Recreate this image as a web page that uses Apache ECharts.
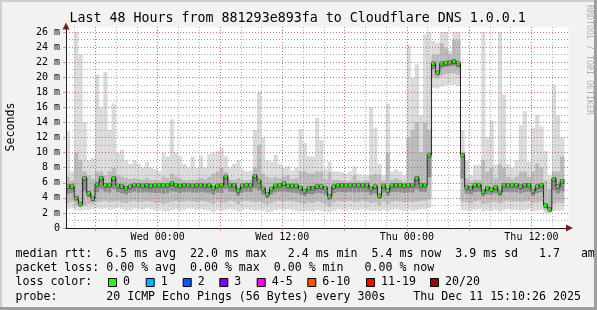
<!DOCTYPE html>
<html><head><meta charset="utf-8">
<script src="https://cdn.jsdelivr.net/npm/echarts@6/dist/echarts.min.js"></script>
<style>html,body{margin:0;padding:0;background:#f2f2f2}#c{width:597px;height:310px}</style>
</head><body><div id="c"></div>
<script>
// time slots: hours relative to Wed 00:00, one slot = 24 minutes, from Tue 15:10 to Thu 15:10
const startHour = -8.8333;
const stepHours = 0.4;
const xMaxHour = 39.57;
const yMaxMs = 26.66;

const medianMs = [5.5,5.5,4.0,3.2,6.6,4.6,3.9,5.8,6.6,5.7,5.7,6.6,5.6,5.5,5.3,5.5,5.7,5.7,5.6,5.7,
 5.6,5.7,5.7,5.65,5.7,5.9,5.7,5.6,5.7,5.7,5.6,5.7,5.7,5.6,5.7,5.3,5.6,5.7,6.8,5.7,
 5.7,5.0,5.6,5.7,5.7,6.9,6.2,5.2,4.5,5.2,5.6,5.7,5.9,5.6,5.6,5.6,5.3,4.9,5.3,5.3,
 5.5,5.5,5.3,4.2,5.5,5.7,5.7,5.7,5.7,5.7,5.7,5.7,5.7,5.2,5.5,4.3,5.6,5.0,5.7,5.7,
 5.7,5.6,5.7,5.7,6.6,5.7,5.7,9.7,21.8,20.6,21.8,21.9,22.0,22.1,21.8,9.7,5.4,5.3,5.7,5.7,
 4.8,5.3,5.1,5.4,4.8,5.7,5.7,5.7,5.7,5.5,5.7,5.7,4.9,5.5,5.7,3.0,2.5,6.5,5.5,6.2];
const maxMs = [12.8,7.5,26,23,14,9,9.3,20.3,16,20.7,13,16.5,10,10.4,9,8.5,9,8.5,8,8.8,
 8,7.8,7.5,10,9.5,14.4,10,9.5,8.5,8,9.5,8,9.6,8,9.8,10,10.2,10.6,9.5,8,
 8.5,9,7.8,7.5,7.6,13,18.1,12,9,8.8,9.7,8.5,8,8.2,7.6,8,13.1,11.3,9.5,9.5,
 14.6,11.7,7.8,8.8,7.5,7.5,7.4,7.2,7.5,8.2,7.2,7,7,16,13.3,8.5,7,16.5,7.5,7.8,
 7.5,7,24.3,19.9,21.7,15,25.7,26,24.8,24.5,26,26,23.5,26,26,13,9,7,8.4,8.4,
 26,12,14.2,8.4,26,17.7,8.5,8,9,13.7,15.5,8.8,13.3,15,13.5,10.2,7,19,15,12];
const hiMs = [6.8,6.3,10,9,7.5,7,6.5,7.5,7.5,7,7.5,8,7,6.8,6.6,6.5,6.6,6.5,6.4,6.6,
 6.4,6.4,6.3,6.8,6.6,7.2,6.8,6.6,6.4,6.4,6.4,6.4,6.6,6.5,6.8,7.2,7.5,8,7.4,6.4,
 6.4,6.6,6.4,6.3,6.4,8,11,7.2,6.8,6.6,6.8,6.6,6.8,7,6.5,6.6,7.5,7.5,7.2,7.2,
 7.5,7.5,6.5,7.4,6.4,6.4,6.3,6.2,6.3,7,6.3,6.2,6.3,7,7.2,7.1,6.3,10,6.4,6.6,
 6.4,6.2,12,13,14,10,14,13,23,23,24.5,23.8,23,25,25,7.5,6.6,6.2,6.4,6.4,
 9,7.5,8,6.6,8.5,8,6.8,6.5,6.8,7.5,7.5,6.8,7.5,8.5,8,6.3,5.2,7.5,7.5,9.5];
const loMs = [3.3,3.5,2.9,2.8,3.0,3.2,3.2,3.4,3.5,3.6,3.4,3.5,3.6,3.4,3.3,3.5,3.6,3.4,3.5,3.6,
 3.5,3.3,3.4,3.2,3.3,3.5,3.6,3.4,3.5,3.6,3.5,3.4,3.6,3.5,3.4,3.2,3.5,3.3,3.4,3.6,
 3.5,3.2,3.5,3.6,3.5,3.4,3.5,3.3,3.1,3.3,3.5,3.6,3.5,3.6,3.5,3.4,3.3,3.2,3.4,3.3,
 3.5,3.4,3.2,2.8,3.4,3.6,3.5,3.5,3.6,3.4,3.5,3.6,3.5,3.3,3.4,3.0,3.5,3.2,3.5,3.6,
 3.5,3.4,3.5,3.4,3.5,3.6,3.6,3.8,20.0,19.8,20.2,20.4,20.5,20.5,20.3,3.5,3.4,3.3,3.5,3.6,
 3.2,3.3,3.4,3.5,3.3,3.5,3.6,3.5,3.5,3.4,3.5,3.6,3.3,3.4,3.5,2.4,2.2,3.2,3.4,3.3];
const minMs = [2.5,2.6,2.4,2.3,2.4,2.4,2.5,2.6,2.5,2.6,2.4,2.5,2.7,2.5,2.3,2.4,2.6,2.5,2.4,2.6,
 2.5,2.3,2.4,2.2,2.2,2.4,2.5,2.3,2.4,2.6,2.5,2.4,2.5,2.4,2.3,2.1,2.4,2.3,2.4,2.5,
 2.4,2.2,2.4,2.5,2.4,2.3,2.4,2.3,2.1,2.2,2.4,2.5,2.4,2.5,2.4,2.3,2.2,2.2,2.3,2.2,
 2.4,2.3,2.2,2.1,2.3,2.5,2.4,2.4,2.5,2.3,2.4,2.5,2.4,2.3,2.3,2.2,2.4,2.2,2.4,2.5,
 2.4,2.3,2.4,2.3,2.4,2.5,2.5,2.7,18.6,18.5,18.8,19.0,19.0,19.0,18.8,2.4,2.3,2.3,2.4,2.5,
 2.2,2.3,2.3,2.4,2.2,2.4,2.5,2.4,2.4,2.3,2.4,2.5,2.2,2.3,2.4,2.0,2.0,2.2,2.3,2.3];

const xTickLabels = {'0':'Wed 00:00','12':'Wed 12:00','24':'Thu 00:00','36':'Thu 12:00'};
const titleText = 'Last 48 Hours from 881293e893fa to Cloudflare DNS 1.0.0.1';
const yAxisName = 'Seconds';
const statLines = [
 'median rtt:  6.5 ms avg  22.0 ms max   2.4 ms min  5.4 ms now  3.9 ms sd   1.7   am/s',
 'packet loss: 0.00 % avg  0.00 % max  0.00 % min   0.00 % now',
 'loss color:',
 'probe:       20 ICMP Echo Pings (56 Bytes) every 300s    Thu Dec 11 15:10:26 2025'
];
const lossLabels = ['0','1','2','3','4-5','6-10','11-19','20/20'];
const lossColors = ['#26ff00','#00b8ff','#0059ff','#7e00ff','#ff00ff','#ff5500','#ff0000','#a00000'];
const lossBoxX = [108,145.7,182.7,219.3,256.7,307.3,366,430];

const MONO = '"DejaVu Sans Mono", monospace';
const smokeData = medianMs.map((m, i) => [startHour + i*stepHours, startHour + (i+1)*stepHours, minMs[i], loMs[i], hiMs[i], maxMs[i], m]);
const medData = medianMs.map((m, i) => [startHour + i*stepHours, startHour + (i+1)*stepHours, m, i ? medianMs[i-1] : m]);

const chart = echarts.init(document.getElementById('c'), null, {renderer:'canvas'});

const graphics = [];
graphics.push({type:'rect', shape:{x:0,y:0,width:597,height:2}, style:{fill:'#cfcfcf'}, z:100});
graphics.push({type:'rect', shape:{x:0,y:0,width:2,height:310}, style:{fill:'#cfcfcf'}, z:100});
graphics.push({type:'rect', shape:{x:0,y:307,width:597,height:3}, style:{fill:'#9e9e9e'}, z:100});
graphics.push({type:'rect', shape:{x:594,y:0,width:3,height:310}, style:{fill:'#9e9e9e'}, z:100});
graphics.push({type:'text', x:69.5, y:19, style:{text:titleText, font:'13.3px '+MONO, fill:'#000', textVerticalAlign:'middle'}, z:50});
graphics.push({type:'text', x:10.5, y:127, rotation:Math.PI/2, style:{text:yAxisName, font:'11.6px '+MONO, fill:'#000', textAlign:'center', textVerticalAlign:'middle'}, z:50});
graphics.push({type:'text', x:589, y:60, rotation:-Math.PI/2, style:{text:'RRDTOOL / TOBI OETIKER', font:'8.3px '+MONO, fill:'#b0b0b0', textAlign:'center', textVerticalAlign:'middle'}, z:50});
const lineY = [254, 268.3, 282.3, 296.7];
statLines.forEach((t, k) => {
  graphics.push({type:'text', x:15.5, y:lineY[k], style:{text:t, font:'11.6px '+MONO, fill:'#000', textVerticalAlign:'middle'}, z:50});
});
lossLabels.forEach((lab, k) => {
  graphics.push({type:'rect', shape:{x:lossBoxX[k]+0.5, y:278.5, width:8, height:8}, style:{fill:lossColors[k], stroke:'#000', lineWidth:1}, z:50});
  graphics.push({type:'text', x:lossBoxX[k]+15, y:lineY[2], style:{text:lab, font:'11.6px '+MONO, fill:'#000', textVerticalAlign:'middle'}, z:50});
});

const majorGrid = 'rgba(222,79,79,0.6)';
const minorGrid = 'rgba(143,143,143,0.7)';

chart.setOption({
  animation:false,
  backgroundColor:'#f2f2f2',
  grid:{left:66, right:28.5, top:27, bottom:82, show:true, backgroundColor:'#ffffff', borderWidth:0},
  xAxis:[
    {type:'value', min:startHour, max:xMaxHour, minInterval:6, maxInterval:6, splitNumber:8, position:'bottom', z:6,
     axisLine:{show:true, onZero:false, lineStyle:{color:'#1f1f1f', width:1}},
     axisTick:{show:true, length:3, lineStyle:{color:majorGrid}},
     axisLabel:{formatter:v => { const r = Math.round(v); return Math.abs(v-r) < 1e-6 && xTickLabels[String(r)] ? xTickLabels[String(r)] : ''; },
       fontFamily:MONO, fontSize:10, color:'#000', margin:4, showMinLabel:false, showMaxLabel:false},
     splitLine:{show:true, showMinLine:false, showMaxLine:false, lineStyle:{color:majorGrid, type:[1,2], width:1}}},
    {type:'value', min:startHour, max:xMaxHour, minInterval:2, maxInterval:2, splitNumber:24, position:'bottom', z:5,
     axisLine:{show:true, onZero:false, symbol:['none','triangle'], symbolSize:[7,7], symbolOffset:[0,1], lineStyle:{color:'#7f1f1f', width:1}},
     axisTick:{show:false}, axisLabel:{show:false},
     splitLine:{show:true, showMinLine:false, showMaxLine:false, lineStyle:{color:minorGrid, type:[1,2], width:1}}}
  ],
  yAxis:[
    {type:'value', min:0, max:yMaxMs, interval:2, position:'left', z:6,
     axisLine:{show:true, onZero:false, lineStyle:{color:'#1f1f1f', width:1}},
     axisTick:{show:true, length:3, lineStyle:{color:majorGrid}},
     axisLabel:{formatter:v => v === 0 ? '0' : (v + ' m'), fontFamily:MONO, fontSize:10, color:'#000', margin:6, showMaxLabel:false},
     splitLine:{show:true, showMaxLine:false, showMinLine:false, lineStyle:{color:majorGrid, type:[1,2], width:1}}},
    {type:'value', min:0, max:yMaxMs, interval:1, position:'left', z:5,
     axisLine:{show:true, onZero:false, symbol:['none','triangle'], symbolSize:[7,7], symbolOffset:[0,1], lineStyle:{color:'#7f1f1f', width:1}},
     axisTick:{show:false}, axisLabel:{show:false},
     splitLine:{show:true, showMaxLine:false, showMinLine:false, lineStyle:{color:minorGrid, type:[1,2], width:1}}}
  ],
  series:[
    {type:'custom', name:'smoke', xAxisIndex:0, yAxisIndex:0, clip:true, z:2, silent:true,
     data:smokeData, encode:{x:[0,1], y:[2,5]},
     renderItem:(params, api) => {
       const t0 = api.value(0), t1 = api.value(1);
       const a = api.coord([t0, api.value(2)]), b = api.coord([t1, api.value(5)]);
       const c = api.coord([t0, api.value(3)]), d = api.coord([t1, api.value(4)]);
       const m = api.coord([t0, api.value(6)]);
       return {type:'group', children:[
         {type:'rect', shape:{x:a[0], y:b[1], width:b[0]-a[0], height:a[1]-b[1]}, style:{fill:'#dadada'}},
         {type:'rect', shape:{x:c[0], y:d[1], width:d[0]-c[0], height:c[1]-d[1]}, style:{fill:'#bababa'}},
         {type:'rect', shape:{x:c[0], y:m[1]-2, width:d[0]-c[0], height:Math.max(0, (c[1]-m[1])*0.55)}, style:{fill:'#8c8c8c'}}
       ]};
     }},
    {type:'custom', name:'median', xAxisIndex:0, yAxisIndex:0, clip:true, z:3, silent:true,
     data:medData, encode:{x:[0,1], y:[2]},
     renderItem:(params, api) => {
       const t0 = api.value(0), t1 = api.value(1);
       const p = api.coord([t0, api.value(2)]), q = api.coord([t1, api.value(2)]), r = api.coord([t0, api.value(3)]);
       return {type:'group', children:[
         {type:'rect', shape:{x:p[0], y:p[1]-2, width:q[0]-p[0], height:4.5}, style:{fill:'#555555'}},
         {type:'line', shape:{x1:p[0], y1:r[1], x2:p[0], y2:p[1]}, style:{stroke:'#202020', lineWidth:1}},
         {type:'line', shape:{x1:p[0], y1:p[1], x2:q[0], y2:q[1]}, style:{stroke:'#202020', lineWidth:1}},
         {type:'rect', shape:{x:p[0]+0.5, y:p[1]-1.5, width:Math.max(1, q[0]-p[0]-1.5), height:3}, style:{fill:'#26ff00'}}
       ]};
     }}
  ],
  graphic:graphics
});
</script></body></html>
